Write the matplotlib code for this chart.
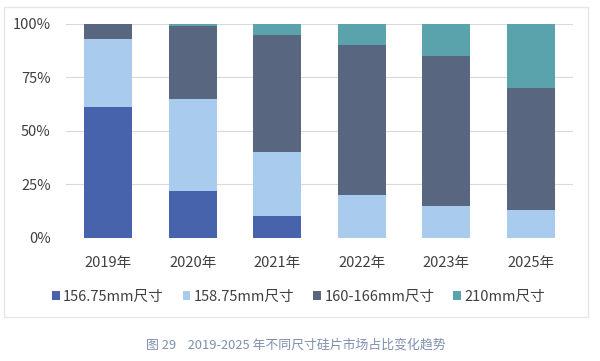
import numpy as np
import matplotlib
matplotlib.use('Agg')
import matplotlib.pyplot as plt
from matplotlib.patches import Rectangle

plt.rcParams['font.family'] = ['Noto Sans CJK SC', 'DejaVu Sans']

# --- dados ---
anos = ['2019年', '2020年', '2021年', '2022年', '2023年', '2025年']
s156 = [61, 22, 10, 0, 0, 0]
s158 = [32, 43, 30, 20, 15, 13]
s160 = [7, 34, 55, 70, 70, 57]
s210 = [0, 1, 5, 10, 15, 30]
series = ['156.75mm尺寸', '158.75mm尺寸', '160-166mm尺寸', '210mm尺寸']
cores = ['#4663AB', '#A9CBEE', '#58677F', '#5AA2AC']

fig = plt.figure(figsize=(6, 3.61), dpi=100)
ax = fig.add_axes([0.11, 0.341, 0.845, 0.593])

# moldura externa
fig.patches.append(Rectangle((0.006, 0.122), 0.974, 0.858, transform=fig.transFigure,
                             fill=False, edgecolor='#E6E6E6', linewidth=1.0))

x = np.arange(len(anos))
base = np.zeros(len(anos))
for vals, nome, cor in zip([s156, s158, s160, s210], series, cores):
    ax.bar(x, vals, width=0.57, bottom=base, color=cor, label=nome, zorder=3)
    base += np.array(vals)

ax.set_xlim(-0.5, len(anos) - 0.5)
ax.set_ylim(0, 100)
ax.set_yticks([0, 25, 50, 75, 100])
ax.set_yticklabels(['0%', '25%', '50%', '75%', '100%'])
ax.set_xticks(x)
ax.set_xticklabels(anos)
ax.tick_params(axis='both', length=0, labelsize=10.5, colors='#404040')
ax.tick_params(axis='x', pad=13)
ax.tick_params(axis='y', pad=11)
ax.grid(axis='y', color='#D9D9D9', linewidth=0.8, zorder=0)
for s in ax.spines.values():
    s.set_visible(False)

ax.legend(loc='upper center', bbox_to_anchor=(0.459, -0.216), ncol=4, frameon=False,
          fontsize=10.5, handlelength=0.5, handleheight=0.6, handletextpad=0.25,
          columnspacing=1.3, labelcolor='#404040', borderaxespad=0)

fig.text(0.493, 0.045, '图 29    2019-2025 年不同尺寸硅片市场占比变化趋势', ha='center', va='center',
         fontsize=9.3, color='#7F8FB0')

plt.savefig('out.png', dpi=100)
